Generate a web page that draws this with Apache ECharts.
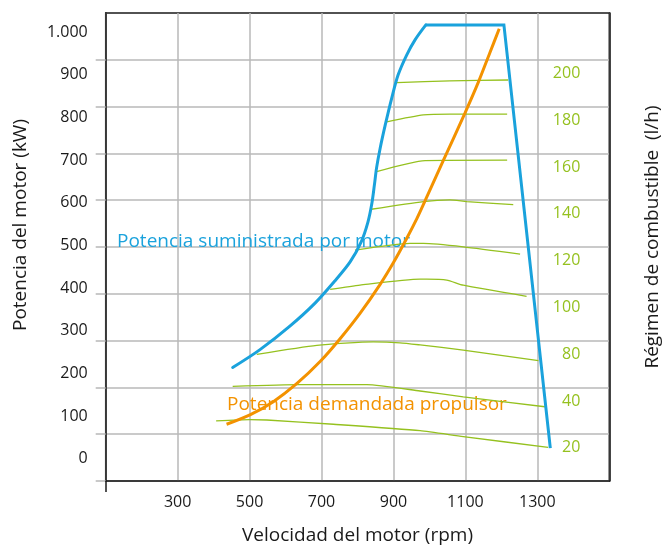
<!DOCTYPE html>
<html>
<head>
<meta charset="utf-8">
<script src="https://cdn.jsdelivr.net/npm/echarts@6/dist/echarts.min.js"></script>
<style>
  html, body { margin: 0; padding: 0; background: #ffffff; }
  #chart { width: 668px; height: 545px; }
</style>
</head>
<body>
<div id="chart"></div>
<script>
// ---------- data ----------
const RPM_TICKS = [300, 500, 700, 900, 1100, 1300];
const KW_TICKS = [0, 100, 200, 300, 400, 500, 600, 700, 800, 900, 1000];
const FUEL_LABELS = ['20', '40', '80', '100', '120', '140', '160', '180', '200'];

// Potencia suministrada por motor (blue envelope): curved rising part, [rpm, kW]
const SUPPLIED_RISE = [
  [453, 214], [529, 256], [612, 311], [682, 365], [737, 417], [779, 461],
  [810, 508], [829, 555], [840, 599], [847, 642], [853, 682], [863, 728],
  [877, 782], [895, 845], [913, 900], [937, 947], [960, 982], [990, 1017]
];
// Potencia suministrada por motor: flat top and falling straight part, [rpm, kW]
const SUPPLIED_LIMIT = [[990, 1017], [1207, 1017], [1336, 25]];

// Potencia demandada propulsor (orange): [rpm, kW]
const DEMAND = [
  [436, 81], [501, 103], [566, 134], [631, 176], [696, 228], [751, 281],
  [807, 341], [863, 409], [900, 460], [937, 517], [965, 563], [988, 605],
  [1039, 700], [1099, 811], [1136, 883], [1168, 952], [1194, 1008]
];
// Fuel consumption iso-lines (l/h): [rpm, kW]
const FUEL_20  = [[407, 89], [501, 92], [548, 91], [733, 81], [974, 66], [1094, 52], [1330, 27]];
const FUEL_40  = [[453, 170], [640, 174], [826, 174], [974, 159], [1094, 145], [1321, 122]];
const FUEL_80  = [[520, 245], [687, 266], [844, 274], [918, 272], [974, 267], [1094, 255], [1303, 230]];
const FUEL_100 = [[724, 397], [807, 407], [974, 421], [992, 421], [1048, 419], [1094, 407], [1270, 381]];
const FUEL_120 = [[793, 489], [946, 505], [983, 505], [1094, 497], [1252, 480]];
const FUEL_140 = [[838, 585], [983, 603], [1057, 607], [1104, 603], [1233, 596]];
const FUEL_160 = [[853, 673], [988, 699], [1216, 700]];
const FUEL_180 = [[881, 790], [983, 806], [1057, 808], [1216, 808]];
const FUEL_200 = [[909, 882], [1057, 886], [1219, 888]];

// ---------- styling ----------
const BLUE = '#1aa2dc';
const ORANGE = '#f39200';
const GREEN = '#95c11f';
const INK = '#1a1a1a';
const GRIDC = '#b8b8b8';
const FONT = 'Open Sans';

const fuelSets = [
  ['20', FUEL_20], ['40', FUEL_40], ['80', FUEL_80], ['100', FUEL_100],
  ['120', FUEL_120], ['140', FUEL_140], ['160', FUEL_160], ['180', FUEL_180],
  ['200', FUEL_200]
];

const fuelSeries = fuelSets.map(([name, data]) => ({
  name: name + ' l/h',
  type: 'line',
  xAxisIndex: 0,
  yAxisIndex: 0,
  data: data,
  smooth: 0.2,
  symbol: 'none',
  lineStyle: { color: GREEN, width: 1.3 },
  z: 3,
  silent: true
}));

const chart = echarts.init(document.getElementById('chart'), null, { renderer: 'canvas' });

const option = {
  backgroundColor: '#ffffff',
  animation: false,
  textStyle: { fontFamily: FONT },
  grid: {
    left: 105.7, right: 58.7, top: 13, bottom: 64,
    outerBoundsMode: 'none', containLabel: false,
    show: true, borderColor: INK, borderWidth: 1.5, backgroundColor: 'transparent'
  },
  xAxis: [
    {
      type: 'value', min: 100, max: 1500,
      name: 'Velocidad del motor (rpm)', nameLocation: 'middle', nameGap: 45,
      nameTextStyle: { fontSize: 19, color: INK, fontFamily: FONT },
      axisLine: { show: true, onZero: false, lineStyle: { color: INK, width: 1.5 } },
      axisTick: { show: true, customValues: [100], length: 11, lineStyle: { color: INK, width: 1.5 } },
      axisLabel: { customValues: RPM_TICKS, fontSize: 16, color: INK, margin: 13, fontFamily: FONT,
                   formatter: v => String(v) },
      splitLine: { show: false }
    },
    {
      type: 'value', min: 0, max: 1400, interval: 200, position: 'bottom',
      axisLine: { show: false, onZero: false }, axisTick: { show: false }, axisLabel: { show: false },
      splitLine: { show: true, lineStyle: { color: GRIDC, width: 1.5 } }
    }
  ],
  yAxis: [
    {
      type: 'value', min: -52, max: 1045, position: 'left',
      name: 'Potencia del motor (kW)', nameLocation: 'middle', nameRotate: 90, nameGap: 76,
      nameTextStyle: { fontSize: 19, color: INK, fontFamily: FONT, padding: [0, 0, 0, 44] },
      axisLine: { show: true, onZero: false, lineStyle: { color: INK, width: 1.5 } },
      axisTick: { show: false },
      axisLabel: {
        customValues: KW_TICKS, fontSize: 16, color: INK, margin: 18, fontFamily: FONT,
        formatter: v => v >= 1000 ? String(v).replace(/(\d)(\d{3})$/, '$1.$2') : String(v)
      },
      splitLine: { show: false }
    },
    {
      type: 'value', min: 0, max: 10, interval: 1, position: 'left',
      axisLine: { show: false, onZero: false },
      axisTick: { show: true, customValues: [0, 1, 2, 3, 4, 5, 6, 7, 8, 9], length: 10, lineStyle: { color: GRIDC, width: 1.5 } },
      axisLabel: { show: false },
      splitLine: { show: true, lineStyle: { color: GRIDC, width: 1.5 } }
    },
    {
      type: 'value', min: -0.71, max: 9.29, position: 'right',
      name: 'Régimen de combustible  (l/h)', nameLocation: 'middle', nameRotate: 90, nameGap: 34,
      nameTextStyle: { fontSize: 19, color: INK, fontFamily: FONT, padding: [0, 0, 0, 20] },
      axisLine: { show: true, onZero: false, lineStyle: { color: INK, width: 1.5 } },
      axisTick: { show: false },
      axisLabel: {
        inside: true, customValues: [0, 1, 2, 3, 4, 5, 6, 7, 8], margin: 29,
        fontSize: 16, color: GREEN, fontFamily: FONT,
        formatter: v => FUEL_LABELS[Math.round(v)] || ''
      },
      splitLine: { show: false }
    }
  ],
  graphic: [
    {
      type: 'text', left: 117, top: 232, z: 1,
      style: { text: 'Potencia suministrada por motor', fill: BLUE, font: '19px "Open Sans"' }
    },
    {
      type: 'text', left: 227, top: 395, z: 1,
      style: { text: 'Potencia demandada propulsor', fill: ORANGE, font: '19px "Open Sans"' }
    }
  ],
  series: fuelSeries.concat([
    {
      name: 'Potencia demandada propulsor', type: 'line', xAxisIndex: 0, yAxisIndex: 0,
      data: DEMAND, smooth: 0.3, symbol: 'none',
      lineStyle: { color: ORANGE, width: 3 }, z: 4, silent: true
    },
    {
      name: 'Potencia suministrada por motor', type: 'line', xAxisIndex: 0, yAxisIndex: 0,
      data: SUPPLIED_RISE, smooth: 0.3, symbol: 'none',
      lineStyle: { color: BLUE, width: 3, cap: 'round' }, z: 5, silent: true
    },
    {
      name: 'Potencia suministrada por motor', type: 'line', xAxisIndex: 0, yAxisIndex: 0,
      data: SUPPLIED_LIMIT, smooth: false, symbol: 'none',
      lineStyle: { color: BLUE, width: 3, join: 'miter' }, z: 5, silent: true
    }
  ])
};

chart.setOption(option);
</script>
</body>
</html>
